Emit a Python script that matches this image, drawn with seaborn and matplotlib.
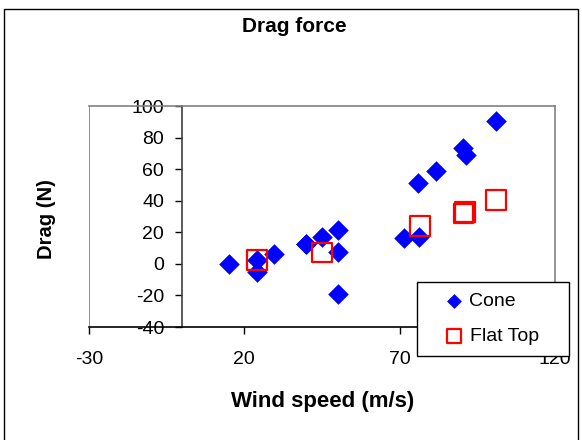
import pandas as pd
import matplotlib.pyplot as plt
import seaborn as sns
from matplotlib.patches import Rectangle

# values
cone_speed = [15, 24, 24, 29.7, 39.8, 40, 45, 50.3, 50, 50, 71.4, 76.3, 75.9, 81.6, 90.4, 91.3, 101.1]
cone_drag = [0, 2.3, -5, 6.2, 12.5, 12.5, 17, 21.4, 7.2, -19.2, 16.1, 17, 51.4, 58.8, 73.6, 69, 90.7]
flat_speed = [24, 45, 76.5, 90.5, 91, 101]
flat_drag = [2.3, 7.2, 24, 32, 33, 40.4]

x_ticks = [-30, 20, 70, 120]
y_ticks = [-40, -20, 0, 20, 40, 60, 80, 100]

cone = pd.DataFrame({'speed': cone_speed, 'drag': cone_drag})
flat = pd.DataFrame({'speed': flat_speed, 'drag': flat_drag})

sns.set_style('white')
plt.rcParams['font.family'] = ['Liberation Sans', 'DejaVu Sans']
plt.rcParams['axes.unicode_minus'] = False
plt.rcParams['text.color'] = 'black'
plt.rcParams['xtick.color'] = 'black'
plt.rcParams['ytick.color'] = 'black'

W, H = 582, 440
fig = plt.figure(figsize=(W / 100, H / 100), dpi=100)
ax = fig.add_axes([89 / W, 1 - 327 / H, (555 - 89) / W, (327 - 106) / H])

sns.scatterplot(data=cone, x='speed', y='drag', ax=ax, marker='D', s=110,
                color='#0000ff', edgecolor='#0000ff', linewidth=0, label='Cone', zorder=3)
sns.scatterplot(data=flat, x='speed', y='drag', ax=ax, marker='s', s=200,
                facecolor='none', edgecolor='#ff0000', linewidth=1.6, label='Flat Top', zorder=4)

ax.set_xlim(-30, 120)
ax.set_ylim(-40, 100)
ax.set_xticks(x_ticks)
ax.set_yticks(y_ticks)

# frame: gray box, black x-axis, y-axis crossing at x = 0
for side in ['top', 'right']:
    ax.spines[side].set_color('#808080')
    ax.spines[side].set_linewidth(1.2)
ax.spines['bottom'].set_color('black')
ax.spines['bottom'].set_linewidth(1.2)
ax.spines['left'].set_position(('data', 0))
ax.spines['left'].set_color('#404040')
ax.spines['left'].set_linewidth(1.2)
ax.axvline(-30, color='#808080', lw=1.2, zorder=1)

ax.tick_params(axis='both', direction='out', length=5, width=1, color='black',
               labelcolor='black', labelsize=14, left=True, bottom=True)
ax.tick_params(axis='x', pad=12)
ax.tick_params(axis='y', pad=8)

ax.set_xlabel('')
ax.set_ylabel('')
fig.text(294 / W, 1 - 27 / H, 'Drag force', ha='center', va='center', fontsize=15, fontweight='bold')
fig.text(323 / W, 1 - 401 / H, 'Wind speed (m/s)', ha='center', va='center', fontsize=16, fontweight='bold')
fig.text(46 / W, 1 - 219 / H, 'Drag (N)', ha='center', va='center', rotation=90, fontsize=14.5, fontweight='bold')

leg = ax.legend(loc='upper left', bbox_to_anchor=(417 / W, 1 - 358 / H, 152 / W, 76 / H),
                bbox_transform=fig.transFigure, mode='expand',
                fontsize=14, frameon=True, fancybox=False, framealpha=1, edgecolor='black',
                markerscale=0.72, handletextpad=-0.55, borderpad=0.55, labelspacing=0.9,
                handlelength=2.7, borderaxespad=0)
leg.get_frame().set_linewidth(1)
leg.set_zorder(10)

fig.patches.append(Rectangle((4 / W, -0.05), (578 - 4) / W, 1 - 9 / H + 0.05, transform=fig.transFigure,
                             fill=False, edgecolor='black', lw=1))

plt.savefig('out.png', dpi=100)
